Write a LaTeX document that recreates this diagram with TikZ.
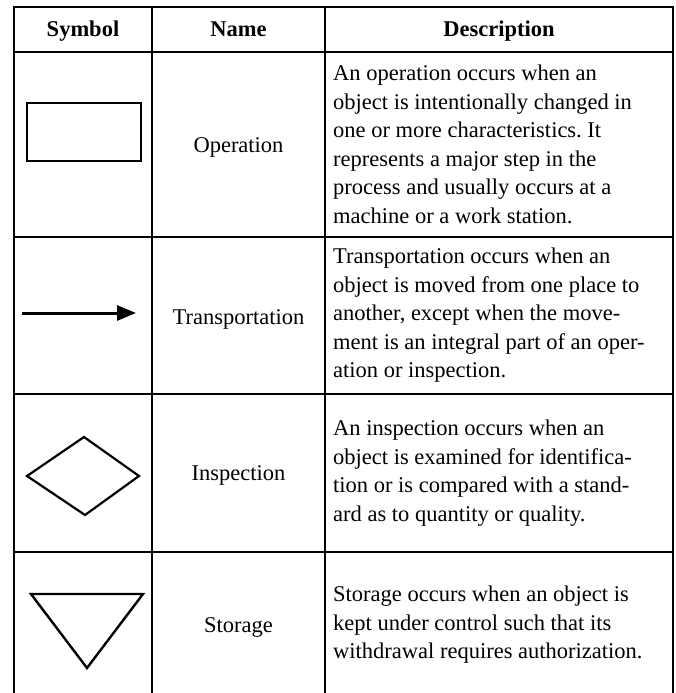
\documentclass[tikz,border=0pt]{standalone}
\usepackage{fontspec}
\setmainfont{Liberation Serif}
\usetikzlibrary{arrows.meta}
\frenchspacing
\begin{document}
\begin{tikzpicture}[x=1pt,y=-1pt,
  grid/.style={line width=2.8pt,line cap=rect},
  symline/.style={line width=2.4pt,line join=miter},
  headtext/.style={font=\fontsize{22.5}{28.5}\selectfont\bfseries,anchor=base,inner sep=0pt},
  nametext/.style={font=\fontsize{22.5}{28.5}\selectfont,anchor=base,inner sep=0pt},
  desctext/.style={font=\fontsize{22.5}{28.5}\selectfont,anchor=west,align=left,inner sep=0pt}]
\useasboundingbox (0,0) rectangle (675,693);
% table grid
\coordinate (tl) at (14,7);
\coordinate (tr) at (673,7);
\draw[grid] (14,693) -- (tl) -- (tr) -- (673,693);
\draw[grid] (152,7) -- (152,693);
\draw[grid] (325,7) -- (325,693);
\draw[grid] (14,52) -- (673,52);
\draw[grid] (14,237) -- (673,237);
\draw[grid] (14,394) -- (673,394);
\draw[grid] (14,552) -- (673,552);
% header
\node[headtext] (hsym) at (83,37) {Symbol};
\node[headtext] (hname) at (238.5,37) {Name};
\node[headtext] (hdesc) at (499,37) {Description};
% names
\node[nametext] (nop) at (238.5,152) {Operation};
\node[nametext] (ntr) at (238.5,324) {Transportation};
\node[nametext] (nin) at (238.5,480) {Inspection};
\node[nametext] (nst) at (238.5,632) {Storage};
% descriptions
\node[desctext] (dop) at (333,144.5) {An operation occurs when an\\object is intentionally changed in\\one or more characteristics. It\\represents a major step in the\\process and usually occurs at a\\machine or a work station.};
\node[desctext] (dtr) at (333,315.5) {Transportation occurs when an\\object is moved from one place to\\another, except when the move-\\ment is an integral part of an oper-\\ation or inspection.};
\node[desctext] (din) at (333,473) {An inspection occurs when an\\object is examined for identifica-\\tion or is compared with a stand-\\ard as to quantity or quality.};
\node[desctext] (dst) at (333,625) {Storage occurs when an object is\\kept under control such that its\\withdrawal requires authorization.};
% symbols
\node[draw,symline,minimum width=114pt,minimum height=58pt,inner sep=0pt] (sop) at (84,132) {};
\coordinate (as) at (22,313);
\coordinate (ae) at (136,313);
\draw[line width=3pt,-{Triangle[length=19pt,width=15pt]}] (as) -- (ae);
\coordinate (dl) at (27,476);
\coordinate (dt) at (84,437);
\coordinate (dr) at (139,476);
\coordinate (db) at (85,515);
\draw[line width=2.2pt,line join=miter] (dl) -- (dt) -- (dr) -- (db) -- cycle;
\coordinate (sl) at (31,594);
\coordinate (sr) at (143,594);
\coordinate (sb) at (87,668);
\draw[symline] (sl) -- (sr) -- (sb) -- cycle;
\end{tikzpicture}
\end{document}
